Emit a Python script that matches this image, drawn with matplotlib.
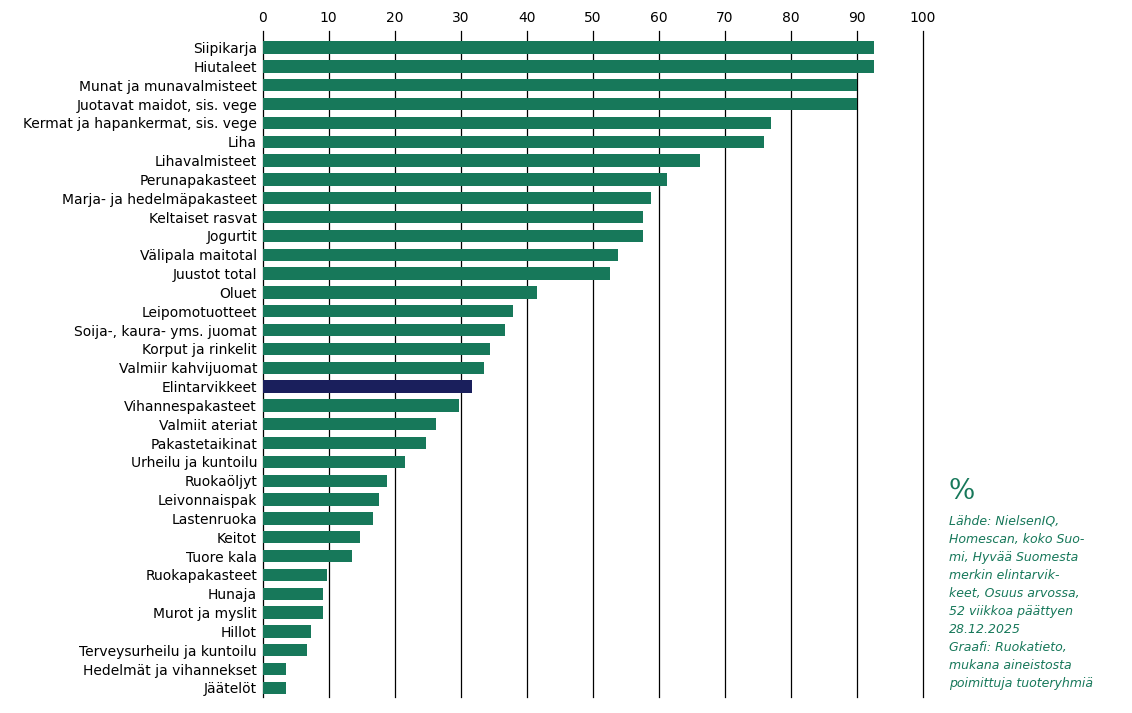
import matplotlib.pyplot as plt
import numpy as np

categories = [
    "Siipikarja", "Hiutaleet", "Munat ja munavalmisteet", "Juotavat maidot, sis. vege",
    "Kermat ja hapankermat, sis. vege", "Liha", "Lihavalmisteet", "Perunapakasteet",
    "Marja- ja hedelmäpakasteet", "Keltaiset rasvat", "Jogurtit", "Välipala maitotal",
    "Juustot total", "Oluet", "Leipomotuotteet", "Soija-, kaura- yms. juomat",
    "Korput ja rinkelit", "Valmiir kahvijuomat", "Elintarvikkeet", "Vihannespakasteet",
    "Valmiit ateriat", "Pakastetaikinat", "Urheilu ja kuntoilu", "Ruokaöljyt",
    "Leivonnaispak", "Lastenruoka", "Keitot", "Tuore kala", "Ruokapakasteet",
    "Hunaja", "Murot ja myslit", "Hillot", "Terveysurheilu ja kuntoilu",
    "Hedelmät ja vihannekset", "Jäätelöt",
]
values = [92.7, 92.7, 90.0, 90.0, 77.1, 75.9, 66.2, 61.2, 58.9, 57.6, 57.6, 53.9,
          52.6, 41.5, 38.0, 36.7, 34.5, 33.6, 31.8, 29.8, 26.2, 24.8, 21.5, 18.9,
          17.7, 16.8, 14.8, 13.5, 9.7, 9.1, 9.1, 7.4, 6.7, 3.6, 3.6]
highlight = "Elintarvikkeet"

green = "#17785a"
navy = "#1a1f5c"

fig = plt.figure(figsize=(11.32, 7.13), dpi=100)
ax = fig.add_axes([0.232, 0.022, 0.583, 0.935])

y = np.arange(len(categories))
colors = [navy if c == highlight else green for c in categories]
ax.barh(y, values, color=colors, height=0.66, zorder=3)

ax.set_xlim(0, 100)
ax.set_ylim(len(categories) - 0.5, -0.9)
ax.set_xticks(range(0, 101, 10))
ax.xaxis.tick_top()
ax.tick_params(axis="x", length=0, labelsize=10, pad=4)
ax.tick_params(axis="y", length=0, labelsize=10, pad=4)
ax.set_yticks(y)
ax.set_yticklabels(categories)
for v in range(0, 101, 10):
    ax.axvline(v, color="black", linewidth=0.9, zorder=0, clip_on=False)
for s in ax.spines.values():
    s.set_visible(False)

# Source note
fig.text(0.838, 0.30, "%", fontsize=20, color=green, family="serif")
fig.text(0.838, 0.278,
         "Lähde: NielsenIQ,\nHomescan, koko Suo-\nmi, Hyvää Suomesta\nmerkin elintarvik-\n"
         "keet, Osuus arvossa,\n52 viikkoa päättyen\n28.12.2025\nGraafi: Ruokatieto,\n"
         "mukana aineistosta\npoimittuja tuoteryhmiä",
         fontsize=9, color=green, style="italic", va="top", linespacing=1.5)

plt.savefig("out.png", dpi=100)
plt.close()
